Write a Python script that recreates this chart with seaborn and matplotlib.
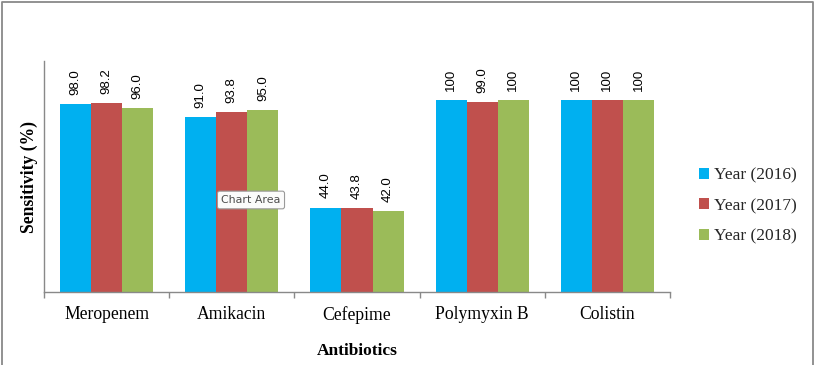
import pandas as pd
import seaborn as sns
import matplotlib.pyplot as plt
from matplotlib.lines import Line2D
import numpy as np

# === Data ===
antibiotics = ['Meropenem', 'Amikacin', 'Cefepime', 'Polymyxin B', 'Colistin']
years = ['Year (2016)', 'Year (2017)', 'Year (2018)']
sens_2016 = [98.0, 91.0, 44.0, 100, 100]
sens_2017 = [98.2, 93.8, 43.8, 99.0, 100]
sens_2018 = [96.0, 95.0, 42.0, 100, 100]
colors = ['#00B0F0', '#C0504D', '#9BBB59']

rows = []
for year, vals in zip(years, [sens_2016, sens_2017, sens_2018]):
    for ab, v in zip(antibiotics, vals):
        rows.append({'Antibiotics': ab, 'Year': year, 'Sensitivity': v})
df = pd.DataFrame(rows)

sns.set_theme(style='white')
serif = ['Liberation Serif', 'DejaVu Serif']

fig = plt.figure(figsize=(8.15, 3.65), dpi=100)
ax = fig.add_axes([44 / 815, 73 / 365, 626 / 815, 231 / 365])

sns.barplot(data=df, x='Antibiotics', y='Sensitivity', hue='Year',
            palette=colors, width=0.745, gap=0, saturation=1,
            edgecolor='none', linewidth=0, ax=ax, legend=True)

ax.set_ylim(0, 120.3)
ax.set_xlim(-0.5, len(antibiotics) - 0.5)

# data labels
for cont in ax.containers:
    for bar in cont:
        v = bar.get_height()
        txt = '100' if v == 100 else f'{v:.1f}'
        ax.annotate(txt, (bar.get_x() + bar.get_width() / 2, v),
                    xytext=(0, 6.5), textcoords='offset points',
                    rotation=90, ha='center', va='bottom',
                    fontsize=9.5, family=['Liberation Sans', 'DejaVu Sans'],
                    color='black')

# axes styling
for s in ['top', 'right']:
    ax.spines[s].set_visible(False)
for s in ['left', 'bottom']:
    ax.spines[s].set_color('#898989')
    ax.spines[s].set_linewidth(1)
ax.set_yticks([])
ax.set_xticks(range(len(antibiotics)))
ax.set_xticklabels(antibiotics, family=serif, fontsize=12.7, color='black')
ax.tick_params(axis='x', which='major', length=0, pad=10)
ax.set_xticks(np.arange(-0.5, len(antibiotics)), minor=True)
ax.tick_params(axis='x', which='minor', length=4, width=1, color='#898989',
               direction='out', bottom=True)

ax.set_xlabel('Antibiotics', family=serif, fontsize=12.5, fontweight='bold',
              labelpad=14, color='black')
ax.set_ylabel('Sensitivity (%)', family=serif, fontsize=12.7,
              fontweight='bold', labelpad=4, color='black')

# legend
ax.legend(loc='center left', bbox_to_anchor=(690 / 815, 1 - 206 / 365),
          bbox_transform=fig.transFigure, frameon=False,
          prop={'family': serif, 'size': 12.5}, handlelength=0.6,
          handleheight=0.6, handletextpad=0.3, labelspacing=0.82,
          borderpad=0)

# tooltip artifact
fig.text(251 / 815, 1 - 200 / 365, 'Chart Area', ha='center', va='center',
         fontsize=7.9, family=['DejaVu Sans'], color='#4d4d4d',
         bbox=dict(boxstyle='round,pad=0.35,rounding_size=0.2',
                   facecolor='#fbfbfb', edgecolor='#9a9a9a', linewidth=0.8))

# chart border
x0, x1, yt = 1.5 / 815, 812.5 / 815, 1 - 1.5 / 365
fig.add_artist(Line2D([x0, x0, x1, x1], [0, yt, yt, 0],
                      transform=fig.transFigure, color='#898989', lw=1.3))

plt.savefig('out.png', dpi=100)
